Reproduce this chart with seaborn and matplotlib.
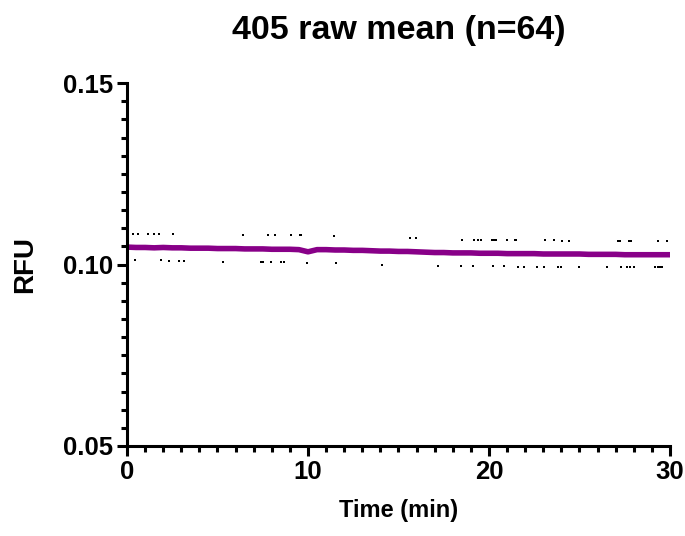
import numpy as np
import pandas as pd
import matplotlib
matplotlib.use("Agg")
import matplotlib.pyplot as plt
import seaborn as sns
from matplotlib.ticker import MultipleLocator, FormatStrFormatter

# mean trace, sampled every 0.5 min
time_min = np.arange(0, 30.5, 0.5)
mean_rfu = [0.1048, 0.1047, 0.1047, 0.1046, 0.1047, 0.1046, 0.1046, 0.1045, 0.1045, 0.1045,
            0.1044, 0.1044, 0.1044, 0.1043, 0.1043, 0.1043, 0.1042, 0.1042, 0.1042, 0.1041,
            0.1035, 0.1041, 0.1041, 0.1040, 0.1040, 0.1039, 0.1039, 0.1038, 0.1037, 0.1037,
            0.1036, 0.1036, 0.1035, 0.1034, 0.1033, 0.1033, 0.1032, 0.1032, 0.1032, 0.1031,
            0.1031, 0.1031, 0.1030, 0.1030, 0.1030, 0.1030, 0.1029, 0.1029, 0.1029, 0.1029,
            0.1029, 0.1028, 0.1028, 0.1028, 0.1028, 0.1027, 0.1027, 0.1027, 0.1027, 0.1027,
            0.1027]

# visible error bar ends (upper / lower)
upper_t = [0.33, 0.61, 1.16, 1.49, 1.78, 2.52, 6.39, 7.78, 8.16, 9.08, 9.54, 9.61, 11.44,
           15.62, 15.97, 18.51, 19.15, 19.39, 19.54, 20.17, 20.28, 20.40, 21.00, 21.42, 21.49,
           23.08, 23.59, 24.03, 24.44, 27.11, 27.22, 27.72, 27.85, 29.32, 29.85]
upper_v = [0.1085, 0.1085, 0.1085, 0.1085, 0.1084, 0.1084, 0.1081, 0.1081, 0.1081, 0.1080, 0.1080, 0.1080, 0.1079,
           0.1072, 0.1072, 0.1068, 0.1068, 0.1068, 0.1068, 0.1067, 0.1067, 0.1067, 0.1067, 0.1067, 0.1067,
           0.1067, 0.1067, 0.1066, 0.1066, 0.1066, 0.1066, 0.1066, 0.1066, 0.1066, 0.1065]
lower_t = [0.43, 1.88, 2.30, 2.89, 3.15, 5.29, 7.39, 7.50, 7.94, 8.51, 8.66, 9.93, 11.55,
           14.09, 17.18, 18.47, 19.10, 20.20, 20.81, 21.60, 21.92, 22.67, 23.02, 23.81, 23.96,
           24.96, 26.52, 27.29, 27.62, 27.77, 28.03, 29.19, 29.32, 29.45, 29.56]
lower_v = [0.1012, 0.1012, 0.1011, 0.1011, 0.1011, 0.1008, 0.1006, 0.1006, 0.1006, 0.1006, 0.1006, 0.1005, 0.1004,
           0.0999, 0.0997, 0.0995, 0.0995, 0.0995, 0.0995, 0.0994, 0.0994, 0.0994, 0.0994, 0.0994, 0.0994,
           0.0993, 0.0993, 0.0993, 0.0993, 0.0993, 0.0993, 0.0992, 0.0992, 0.0992, 0.0992]

mean_df = pd.DataFrame({"t": time_min, "rfu": mean_rfu})
err_df = pd.DataFrame({"t": upper_t + lower_t, "rfu": upper_v + lower_v})

sns.set_theme(style="ticks")
plt.rcParams["font.family"] = ["Liberation Sans", "DejaVu Sans"]
plt.rcParams["font.weight"] = "bold"
for key in ["text.color", "axes.labelcolor", "xtick.color", "ytick.color", "axes.edgecolor"]:
    plt.rcParams[key] = "black"

fig = plt.figure(figsize=(6.85, 5.36), dpi=100)
ax = fig.add_axes([0.1854, 0.168, 0.7927, 0.677])

sns.scatterplot(data=err_df, x="t", y="rfu", ax=ax, color="black", s=3, marker="s",
                linewidth=0)
sns.lineplot(data=mean_df, x="t", y="rfu", ax=ax, color="#880088", linewidth=4.0)

ax.set_xlim(0, 30)
ax.set_ylim(0.05, 0.15)
ax.xaxis.set_major_locator(MultipleLocator(10))
ax.xaxis.set_minor_locator(MultipleLocator(1))
ax.yaxis.set_major_locator(MultipleLocator(0.05))
ax.yaxis.set_minor_locator(MultipleLocator(0.005))
ax.yaxis.set_major_formatter(FormatStrFormatter("%.2f"))

for side in ["top", "right"]:
    ax.spines[side].set_visible(False)
for side in ["left", "bottom"]:
    ax.spines[side].set_linewidth(2.2)
    ax.spines[side].set_color("black")

ax.tick_params(which="major", length=7, width=2.2, color="black", labelcolor="black",
               labelsize=18.5, pad=3)
ax.tick_params(which="minor", length=4, width=2.2, color="black")
for lab in ax.get_xticklabels() + ax.get_yticklabels():
    lab.set_fontweight("bold")

ax.set_xlabel("Time (min)", fontsize=17, fontweight="bold", labelpad=11)
ax.set_ylabel("RFU", fontsize=20, fontweight="bold", labelpad=18)
ax.set_title("405 raw mean (n=64)", fontsize=24.5, fontweight="bold", pad=32)

fig.savefig("out.png", dpi=100)
